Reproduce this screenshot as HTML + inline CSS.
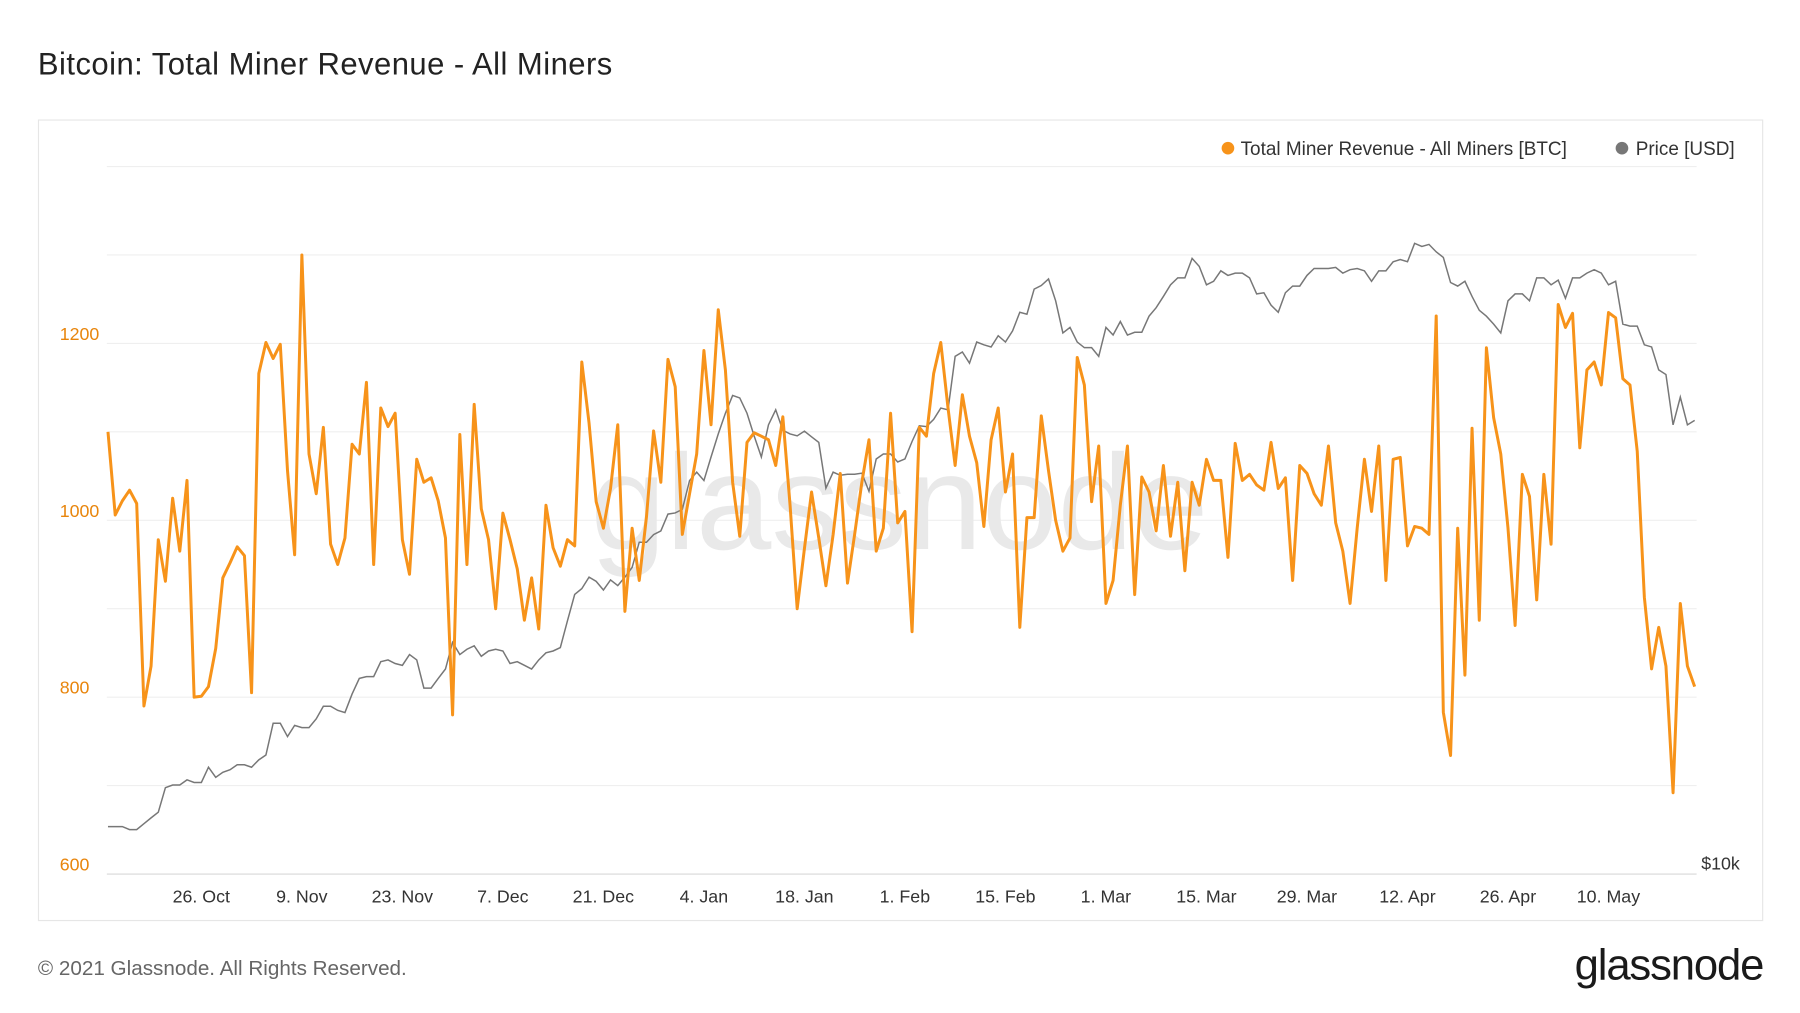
<!DOCTYPE html>
<html><head><meta charset="utf-8"><style>
html,body{margin:0;padding:0;background:#fff;}
svg{display:block;font-family:"Liberation Sans",sans-serif;}
</style></head><body>
<svg id="chart" width="1800" height="1013" viewBox="0 0 1567 882" preserveAspectRatio="none" xmlns="http://www.w3.org/2000/svg">
<text x="33" y="65" font-size="27" fill="#222" letter-spacing="0.4">Bitcoin: Total Miner Revenue - All Miners</text>
<rect x="33.5" y="104.5" width="1501" height="697" fill="#fff" stroke="#e6e6e6"/>
<g id="grid"></g>
<text x="783" y="478" font-size="118" fill="#e9e9e9" text-anchor="middle">glassnode</text>
<g id="yaxis"></g>
<g id="xaxis"></g>
<path id="priceLine" fill="none" stroke="#777" stroke-width="1.3"/>
<path id="revLine" fill="none" stroke="#f7931a" stroke-width="2.6" stroke-linejoin="round"/>
<g>
<g><circle cx="1069" cy="129" r="5.5" fill="#f7931a"/><text x="1080" y="135" font-size="16.5" fill="#333">Total Miner Revenue - All Miners [BTC]</text></g>
<g><circle cx="1412" cy="129" r="5.5" fill="#777"/><text x="1424" y="135" font-size="16.5" fill="#333">Price [USD]</text></g>
</g>
<text x="1481" y="757" font-size="15.5" fill="#333">$10k</text>
<text x="33" y="849" font-size="18" fill="#666">© 2021 Glassnode. All Rights Reserved.</text>
<text x="1535" y="853" font-size="38" fill="#1a1a1a" text-anchor="end" letter-spacing="-1">glassnode</text>
</svg>
<script>
const revenue=[1100,1006,1022,1034,1019,790,835,978,931,1025,
965,1045,800,801,812,855,935,952,970,960,
805,1166,1201,1183,1199,1056,961,1300,1075,1030,
1105,973,950,980,1086,1075,1156,950,1127,1106,
1121,978,939,1069,1043,1048,1022,980,780,1097,
950,1131,1013,978,900,1008,978,945,887,935,
877,1017,969,948,978,971,1179,1110,1021,991,
1036,1108,897,991,932,1004,1101,1043,1182,1151,
984,1030,1075,1192,1108,1238,1170,1043,982,1088,
1099,1095,1091,1062,1117,1017,900,968,1032,980,
926,984,1053,929,984,1043,1091,965,991,1121,
997,1010,874,1105,1095,1166,1201,1127,1062,1142,
1095,1065,993,1091,1127,1032,1075,879,1003,1003,
1118,1056,1000,965,980,1184,1153,1021,1084,906,
932,1017,1084,916,1049,1032,988,1062,982,1043,
943,1043,1017,1069,1045,1045,958,1087,1045,1052,
1040,1034,1088,1036,1048,932,1062,1053,1030,1017,
1084,997,965,906,991,1069,1010,1084,932,1069,
1071,971,993,991,984,1231,783,734,991,825,
1104,887,1195,1116,1075,991,881,1052,1027,910,
1052,973,1244,1218,1234,1082,1170,1179,1153,1235,
1229,1160,1153,1078,913,832,879,835,692,906,
835,812];
const priceK=[11.5,11.5,11.5,11.4,11.4,11.6,11.8,12.0,12.9,13.0,
13.0,13.2,13.1,13.1,13.7,13.3,13.5,13.6,13.8,13.8,
13.7,14.0,14.2,15.6,15.6,15.0,15.5,15.4,15.4,15.8,
16.4,16.4,16.2,16.1,17.0,17.8,17.9,17.9,18.7,18.8,
18.6,18.5,19.1,18.8,17.3,17.3,17.8,18.3,19.8,19.1,
19.4,19.6,19.0,19.3,19.4,19.3,18.6,18.7,18.5,18.3,
18.8,19.2,19.3,19.5,21.1,22.8,23.2,24.0,23.7,23.1,
23.8,23.4,24.0,24.7,26.6,26.6,27.2,27.5,28.9,29.0,
29.3,31.9,32.7,31.9,34.2,36.6,38.9,41.0,40.7,38.9,
36.4,34.2,37.6,39.3,37.0,36.6,36.4,36.9,36.3,35.7,
31.2,32.7,32.4,32.5,32.5,32.6,30.9,34.0,34.5,34.5,
33.7,34.0,35.8,37.5,37.4,38.2,39.5,39.3,46.0,46.6,
45.1,48.0,47.6,47.3,48.9,48.0,49.6,52.4,52.1,56.1,
56.7,57.8,54.2,49.3,50.1,48.0,47.2,47.2,46.0,50.1,
49.0,51.0,49.0,49.4,49.4,51.8,53.1,54.9,56.8,58.0,
58.0,61.4,60.0,56.8,57.4,59.2,58.4,58.8,58.8,58.0,
55.3,55.5,53.5,52.4,55.5,56.6,56.6,58.4,59.6,59.6,
59.6,59.8,58.8,59.4,59.6,59.2,57.4,59.2,59.2,60.8,
61.2,60.8,64.2,63.6,64.0,62.6,61.6,57.2,56.6,57.4,
54.9,52.7,51.8,50.6,49.3,54.2,55.3,55.3,54.2,58.0,
58.0,56.8,57.6,54.6,58.0,58.0,58.8,59.4,58.8,56.8,
57.4,50.6,50.3,50.3,47.6,47.3,44.2,43.6,37.6,40.8,
37.6,38.1];
const yTicks=[600,800,1000,1200];
const gridValues=[700,800,900,1000,1100,1200,1300,1400];
const xTickLabels=["26. Oct","9. Nov","23. Nov","7. Dec","21. Dec","4. Jan","18. Jan","1. Feb","15. Feb","1. Mar","15. Mar","29. Mar","12. Apr","26. Apr","10. May"];
const xTickDays=[13,27,41,55,69,83,97,111,125,139,153,167,181,195,209];

const NS="http://www.w3.org/2000/svg";
const X0=94, DX=6.25;
function xScale(d){return X0+d*DX;}
function yRev(v){return 761-(v-600)*0.77;}
function yPrice(k){return 761-680*Math.log10(k/10);}

const grid=document.getElementById('grid');
gridValues.forEach(v=>{
  const l=document.createElementNS(NS,'line');
  
  
  l.setAttribute('x1',93);l.setAttribute('x2',1477);
  l.setAttribute('y1',yRev(v));l.setAttribute('y2',yRev(v));
  l.setAttribute('stroke','#efefef');l.setAttribute('stroke-width','1');
  grid.appendChild(l);
});
const base=document.createElementNS(NS,'line');


base.setAttribute('x1',93);base.setAttribute('x2',1477);base.setAttribute('y1',761);base.setAttribute('y2',761);
base.setAttribute('stroke','#d8d8d8');
grid.appendChild(base);

const ya=document.getElementById('yaxis');
yTicks.forEach(v=>{
  const t=document.createElementNS(NS,'text');
  
  
  t.setAttribute('x',52);t.setAttribute('y',yRev(v)-3);
  t.setAttribute('font-size','15.5');t.setAttribute('fill','#e8850c');
  t.textContent=v;ya.appendChild(t);
});
const xa=document.getElementById('xaxis');
xTickLabels.forEach((lab,i)=>{
  const t=document.createElementNS(NS,'text');
  
  
  t.setAttribute('x',xScale(xTickDays[i]));t.setAttribute('y',786);
  t.setAttribute('font-size','15.5');t.setAttribute('fill','#333');t.setAttribute('text-anchor','middle');
  t.textContent=lab;xa.appendChild(t);
});
document.getElementById('revLine').setAttribute('d',revenue.map((v,i)=>(i?'L':'M')+xScale(i).toFixed(1)+','+yRev(v).toFixed(1)).join(''));
document.getElementById('priceLine').setAttribute('d',priceK.map((v,i)=>(i?'L':'M')+xScale(i).toFixed(1)+','+yPrice(v).toFixed(1)).join(''));
</script>
</body></html>
